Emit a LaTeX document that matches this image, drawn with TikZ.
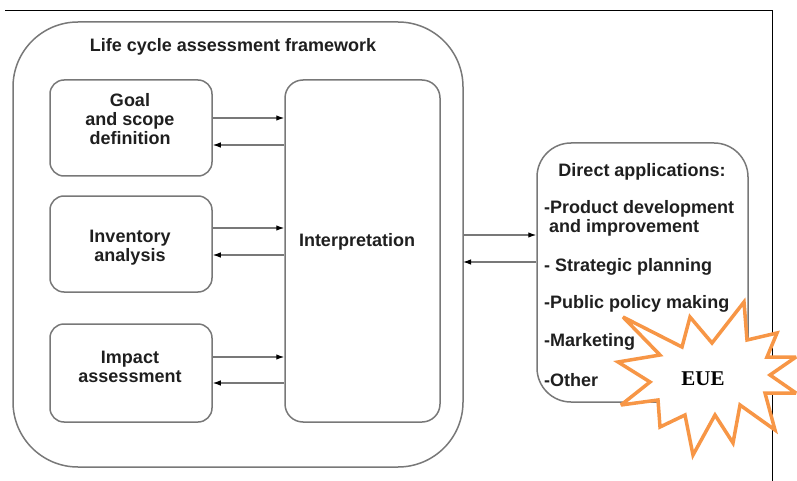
\documentclass[tikz,border=0pt]{standalone}
\usepackage{fontspec}
\setmainfont{Liberation Sans}
\newfontfamily\burstfont{Liberation Serif}
\usetikzlibrary{arrows.meta,calc}

\definecolor{boxgray}{RGB}{120,120,120}
\definecolor{burstorange}{RGB}{247,150,70}

\begin{document}
\begin{tikzpicture}[x=1pt,y=-1pt,
    box/.style={draw=boxgray,line width=1.5pt,rounded corners=#1},
    box/.default=14pt,
    label/.style={font=\fontsize{18}{19}\selectfont\bfseries,text=black!88,align=center},
    item/.style={font=\fontsize{18}{19}\selectfont\bfseries,text=black!88,anchor=west,inner sep=0pt},
    arr/.style={draw=boxgray,line width=1.1pt,-{Latex[black,length=8pt,width=5.5pt]}}
  ]
    \useasboundingbox (0,0) rectangle (797,481);

    % frame of the page
    \draw[black,line width=0.8pt] (5,10) -- (772,10) -- (772,481);

    % life cycle assessment framework
    \draw[box=65pt] (13,22) rectangle (463,467);
    \coordinate (lcaE) at (463,244);
    \node[label] (title) at (233,47) {Life cycle assessment framework};

    \node[box,minimum width=162pt,minimum height=96pt] (goal) at (131,128) {};
    \node[box,minimum width=162pt,minimum height=96pt] (inv) at (131,244) {};
    \node[box,minimum width=162pt,minimum height=98pt] (imp) at (131,373) {};
    \node[label] (goaltext) at (130,119) {Goal\\and scope\\definition};
    \node[label] (invtext) at (130,248) {Inventory\\analysis};
    \node[label] (imptext) at (130,367) {Impact\\assessment};
    \node[box=18pt,minimum width=155pt,minimum height=342pt] (interp) at (362.5,251) {};
    \node[label] (interptext) at (357,242) {Interpretation};

    \foreach \src/\ya/\yb in {goal/118/145, inv/228/255, imp/357/383} {
      \draw[arr] (\src.east |- 0,\ya) -- (interp.west |- 0,\ya);
      \draw[arr] (interp.west |- 0,\yb) -- (\src.east |- 0,\yb);
    }

    % direct applications
    \node[box=34pt,minimum width=211pt,minimum height=259pt] (apps) at (642.5,272.5) {};
    \node[label] (appstitle) at (642,172) {Direct applications:};
    \node[item] (app1) at (544,209) {-Product development};
    \node[item] (app2) at (544,228) {\ and improvement};
    \node[item] (app3) at (544,267) {- Strategic planning};
    \node[item] (app4) at (544,304) {-Public policy making};
    \node[item] (app5) at (544,342) {-Marketing};
    \node[item] (app6) at (544,380) {-Other};

    \draw[arr] (lcaE |- 0,235) -- (apps.west |- 0,235);
    \draw[arr] (apps.west |- 0,262) -- (lcaE |- 0,262);

    % starburst
    \draw[burstorange,line width=3.5pt,fill=white,line join=miter,miter limit=3]
      plot coordinates {(744,302) (747,340) (777,333) (767,357) (796,357) (770,375)
        (796,393) (765,393) (775,430) (740,405) (733,443) (715,415) (693,455)
        (685,415) (660,427) (658,400) (621,405) (650,382) (618,362) (660,355)
        (623,317) (682,347) (690,317) (712,343)} -- cycle;
    \node[font=\burstfont\fontsize{21}{22}\selectfont\bfseries] (eue) at (703,379) {EUE};

  \end{tikzpicture}
\end{document}
